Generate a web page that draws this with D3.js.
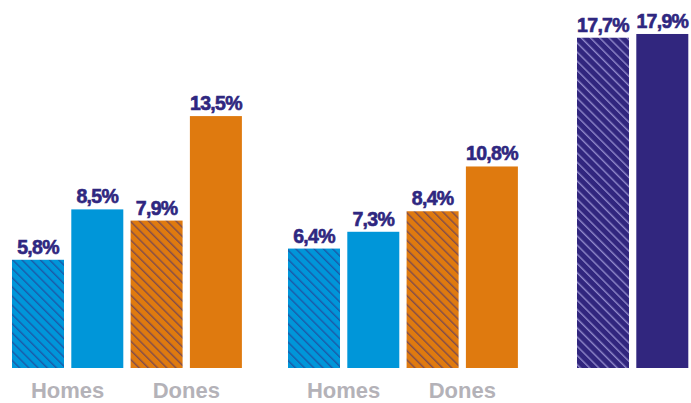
<!DOCTYPE html>
<html>
<head>
<meta charset="utf-8">
<script src="https://cdn.jsdelivr.net/npm/d3@7"></script>
<style>
  html, body { margin: 0; padding: 0; background: #ffffff; }
  svg { display: block; }
</style>
</head>
<body>
<svg id="chart" width="691" height="403"></svg>
<script>
// Share by group: hatched = first period, solid = second period
const groups = ["g1", "g2", "total"];
const categories = ["Homes", "Dones"];
const g1Values = [5.8, 8.5, 7.9, 13.5];
const g2Values = [6.4, 7.3, 8.4, 10.8];
const totalValues = [17.7, 17.9];
const valueLabels = {
  g1: ["5,8%", "8,5%", "7,9%", "13,5%"],
  g2: ["6,4%", "7,3%", "8,4%", "10,8%"],
  total: ["17,7%", "17,9%"]
};

const blue = "#0096d9", orange = "#df7a0f", purple = "#31267e";
const labelColor = "#2f2780", catColor = "#b4b2b8";

const W = 691, H = 403;
const baseline = 368;
const svg = d3.select("#chart");

// Layout of the three groups along the x axis
const groupX = d3.scaleOrdinal().domain(groups).range([12, 288, 577]);
const step = 59.3, barW = 52;
const inner = d3.scaleBand().domain(d3.range(4)).range([0, 4 * step - (step - barW)]).paddingInner((step - barW) / step).paddingOuter(0);

const y = d3.scaleLinear().domain([0, 18]).range([baseline, baseline - 18 * 18.66]);

// Diagonal hatch patterns
const defs = svg.append("defs");
function hatch(id, base, line, opacity, lw) {
  const p = defs.append("pattern").attr("id", id)
    .attr("patternUnits", "userSpaceOnUse").attr("width", 6.5).attr("height", 6.5)
    .attr("patternTransform", "rotate(-45)");
  p.append("rect").attr("width", 6.5).attr("height", 6.5).attr("fill", base);
  p.append("rect").attr("x", 0).attr("y", 0).attr("width", lw).attr("height", 6.5)
    .attr("fill", line).attr("fill-opacity", opacity);
}
hatch("hBlue", blue, purple, 0.55, 1.4);
hatch("hOrange", orange, purple, 0.55, 1.4);
hatch("hPurple", purple, "#9a93d3", 0.9, 1.4);

const rows = [];
groups.forEach(g => {
  const vals = g === "g1" ? g1Values : g === "g2" ? g2Values : totalValues;
  vals.forEach((v, i) => {
    let fill;
    if (g === "total") fill = i === 0 ? "url(#hPurple)" : purple;
    else {
      const isHomes = i < 2;
      const hatched = i % 2 === 0;
      fill = hatched ? (isHomes ? "url(#hBlue)" : "url(#hOrange)") : (isHomes ? blue : orange);
    }
    rows.push({ g, i, v, fill, label: valueLabels[g][i] });
  });
});

const bars = svg.append("g");
bars.selectAll("rect").data(rows).join("rect")
  .attr("x", d => groupX(d.g) + inner(d.i))
  .attr("y", d => y(d.v))
  .attr("width", inner.bandwidth())
  .attr("height", d => baseline - y(d.v))
  .attr("fill", d => d.fill);

svg.append("g").selectAll("text").data(rows).join("text")
  .attr("x", d => groupX(d.g) + inner(d.i) + inner.bandwidth() / 2)
  .attr("y", d => y(d.v) - 6)
  .attr("text-anchor", "middle")
  .attr("font-family", "'Liberation Sans', Arial, sans-serif")
  .attr("font-weight", 700)
  .attr("font-size", 19.5)
  .attr("letter-spacing", -0.7)
  .attr("fill", labelColor)
  .attr("stroke", labelColor)
  .attr("stroke-width", 0.6)
  .text(d => d.label);

// Category labels under the first two groups
const catRows = [];
["g1", "g2"].forEach(g => categories.forEach((c, k) => catRows.push({ g, k, c })));
svg.append("g").selectAll("text").data(catRows).join("text")
  .attr("x", d => groupX(d.g) + (inner(2 * d.k) + inner(2 * d.k + 1) + inner.bandwidth()) / 2)
  .attr("y", 398)
  .attr("text-anchor", "middle")
  .attr("font-family", "'Liberation Sans', Arial, sans-serif")
  .attr("font-weight", 700)
  .attr("font-size", 22)
  .attr("fill", catColor)
  .text(d => d.c);
</script>
</body>
</html>
